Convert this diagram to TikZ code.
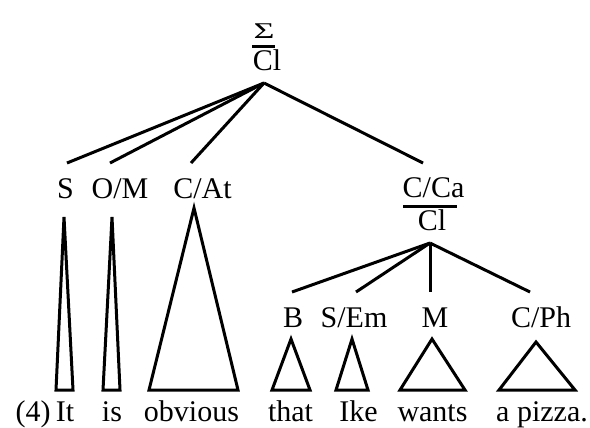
\documentclass[tikz,border=0pt]{standalone}
\usepackage{fontspec}
\setmainfont{Liberation Serif}
\def\roof(#1)(#2:#3){\draw[line width=1.2pt] (#1) -- (#2, 390) -- (#3, 390) -- cycle;}

\tikzset{
	lbl/.style={anchor=base, inner sep=0pt, font=\fontsize{12}{14}\selectfont},
	branch/.style={line width=1.2pt},
}

\begin{document}
\begin{tikzpicture}[x=0.4pt, y=-0.4pt]
		%%%%% START %%%%%
		\useasboundingbox (0, 0) rectangle (590, 427);
		
		% top clause
		\node[lbl] (sigma) at (264, 38) {\scalebox{1.2}[0.75]{Σ}};
		\node[lbl] (cl) at (267, 70) {Cl};
		\draw[line width=1.2pt] (252, 46.5) -- (275, 46.5);
		\coordinate (top) at (264, 83);
		
		% first level
		\node[lbl] (s) at (65.5, 198) {S};
		\node[lbl] (om) at (120, 198) {O/M};
		\node[lbl] (cat) at (202.5, 198) {C/At};
		\node[lbl] (cca) at (433.5, 197) {C/Ca};
		\node[lbl] (cl2) at (432, 230) {Cl};
		\draw[line width=1.2pt] (403, 206.5) -- (457, 206.5);
		\coordinate (s-end) at (67, 163);
		\coordinate (om-end) at (110, 163);
		\coordinate (cat-end) at (191, 163);
		\coordinate (cca-end) at (423, 163);
		\coordinate (mid) at (430, 243);
		
		\draw[branch] (top) -- (s-end);
		\draw[branch] (top) -- (om-end);
		\draw[branch] (top) -- (cat-end);
		\draw[branch] (top) -- (cca-end);
		
		% second level
		\node[lbl] (b) at (293, 327) {B};
		\node[lbl] (sem) at (354, 327) {S/Em};
		\node[lbl] (m) at (435, 327) {M};
		\node[lbl] (cph) at (541, 327) {C/Ph};
		\coordinate (b-end) at (292, 292);
		\coordinate (sem-end) at (356, 292);
		\coordinate (m-end) at (430, 292);
		\coordinate (cph-end) at (530, 292);
		
		\draw[branch] (mid) -- (b-end);
		\draw[branch] (mid) -- (sem-end);
		\draw[branch] (mid) -- (m-end);
		\draw[branch] (mid) -- (cph-end);
		
		% roofs
		\roof(64, 217)(56:73)
		\roof(112, 217)(103:120)
		\roof(194, 208)(149:238)
		\roof(291, 339)(272:310)
		\roof(352, 339)(336:368)
		\roof(432, 339)(400:465)
		\roof(536, 342)(499:575)
		
		% the sentence
		\node[lbl] (num) at (33, 421) {(4)};
		\node[lbl] (w1) at (65, 421) {It};
		\node[lbl] (w2) at (112, 421) {is};
		\node[lbl] (w3) at (191.5, 421) {obvious};
		\node[lbl] (w4) at (290.5, 421) {that};
		\node[lbl] (w5) at (358.5, 421) {Ike};
		\node[lbl] (w6) at (432.5, 421) {wants};
		\node[lbl] (w7) at (542, 421) {a pizza.};
		
		%%%%% END %%%%%
	\end{tikzpicture}
\end{document}
